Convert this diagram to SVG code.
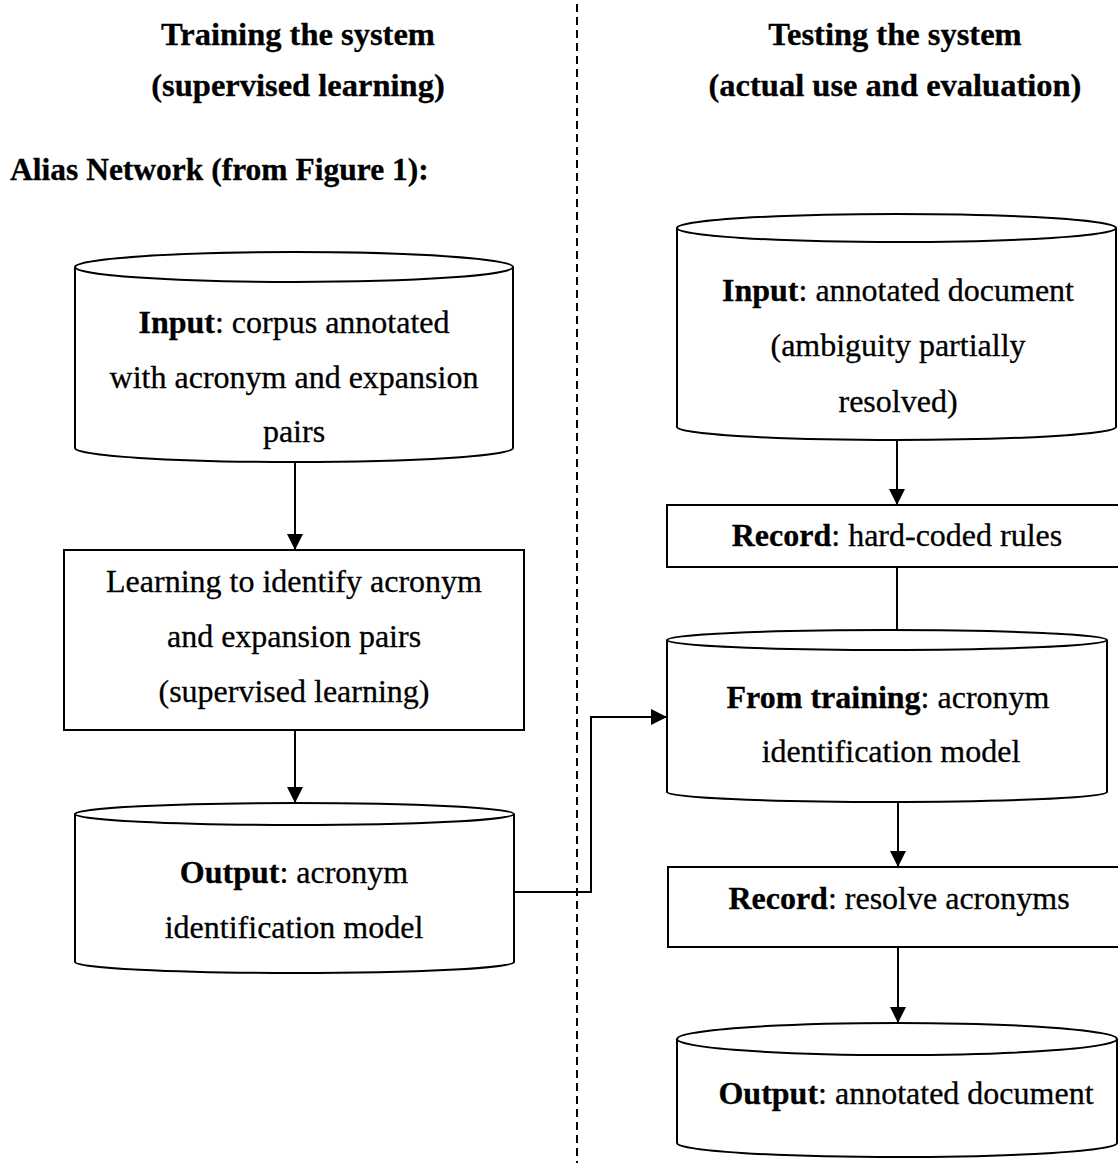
<svg xmlns="http://www.w3.org/2000/svg" width="1118" height="1165" viewBox="0 0 1118 1165">
<style>
text{font-family:"Liberation Serif","Times New Roman",serif;font-size:32px;fill:#000;stroke:#000;stroke-width:0.3;text-anchor:middle}
.b{font-weight:bold}
.h{font-weight:bold;font-size:32.5px}
.shape{fill:#fff;stroke:#000;stroke-width:2}
.conn{fill:none;stroke:#000;stroke-width:2}
.dash{fill:none;stroke:#000;stroke-width:2;stroke-dasharray:8 5}
</style>
<defs>
<marker id="arr" markerUnits="userSpaceOnUse" markerWidth="18" markerHeight="18" refX="16" refY="8" orient="auto">
<path d="M0,0 L16,8 L0,16 Z" fill="#000"/>
</marker>
</defs>
<rect width="1118" height="1165" fill="#fff"/>
<g id="headers">
<text class="h" x="298" y="45">Training the system</text>
<text class="h" x="298" y="96">(supervised learning)</text>
<text class="h" x="895" y="45">Testing the system</text>
<text class="h" x="895" y="96">(actual use and evaluation)</text>
<text class="h" x="10" y="180" style="text-anchor:start;font-size:31.5px">Alias Network (from Figure 1):</text>
</g>
<line class="dash" x1="577" y1="4" x2="577" y2="1163"/>
<g id="connectors">
<path class="conn" d="M295,462 V550" marker-end="url(#arr)"/>
<path class="conn" d="M295,730 V803" marker-end="url(#arr)"/>
<path class="conn" d="M514,892 H591 V717 H667" marker-end="url(#arr)"/>
<path class="conn" d="M897,441 V505" marker-end="url(#arr)"/>
<path class="conn" d="M897,567 V630"/>
<path class="conn" d="M898,802 V867" marker-end="url(#arr)"/>
<path class="conn" d="M898,947 V1023" marker-end="url(#arr)"/>
</g>
<g id="train-input">
<path class="shape" d="M75,267 V448 A219,14 0 0 0 513,448 V267"/>
<ellipse class="shape" cx="294" cy="267" rx="219" ry="15"/>
<text x="294" y="333"><tspan class="b">Input</tspan>: corpus annotated</text>
<text x="294" y="388">with acronym and expansion</text>
<text x="294" y="442">pairs</text>
</g>
<g id="train-learning">
<rect class="shape" x="64" y="550" width="460" height="180"/>
<text x="294" y="592">Learning to identify acronym</text>
<text x="294" y="647">and expansion pairs</text>
<text x="294" y="702">(supervised learning)</text>
</g>
<g id="train-output">
<path class="shape" d="M75,814 V962 A219.5,11 0 0 0 514,962 V814"/>
<ellipse class="shape" cx="294.5" cy="814" rx="219.5" ry="11"/>
<text x="294" y="883"><tspan class="b">Output</tspan>: acronym</text>
<text x="294" y="938">identification model</text>
</g>
<g id="test-input">
<path class="shape" d="M677,228 V427 A219.5,13 0 0 0 1116,427 V228"/>
<ellipse class="shape" cx="896.5" cy="228" rx="219.5" ry="14"/>
<text x="898" y="301"><tspan class="b">Input</tspan>: annotated document</text>
<text x="898" y="356">(ambiguity partially</text>
<text x="898" y="412">resolved)</text>
</g>
<g id="test-record1">
<rect class="shape" x="667" y="505" width="460" height="62"/>
<text x="897" y="546"><tspan class="b">Record</tspan>: hard-coded rules</text>
</g>
<g id="test-model">
<path class="shape" d="M667,640 V792 A220,10 0 0 0 1107,792 V640"/>
<ellipse class="shape" cx="887" cy="640" rx="220" ry="10"/>
<text x="888" y="708"><tspan class="b">From training</tspan>: acronym</text>
<text x="891" y="762">identification model</text>
</g>
<g id="test-record2">
<rect class="shape" x="668" y="867" width="460" height="80"/>
<text x="899" y="909"><tspan class="b">Record</tspan>: resolve acronyms</text>
</g>
<g id="test-output">
<path class="shape" d="M677,1039 V1143 A220,14 0 0 0 1117,1143 V1039"/>
<ellipse class="shape" cx="897" cy="1039" rx="220" ry="16"/>
<text x="906" y="1104"><tspan class="b">Output</tspan>: annotated document</text>
</g>
</svg>
